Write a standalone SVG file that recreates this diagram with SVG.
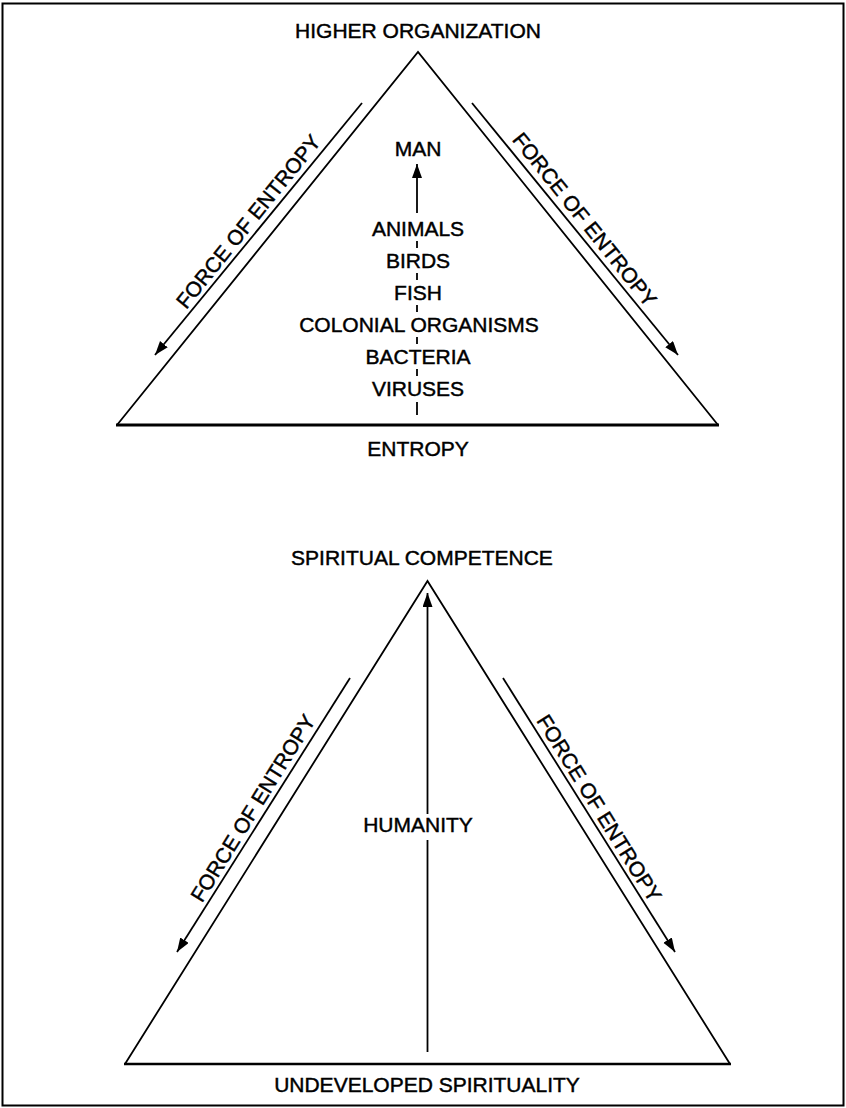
<svg xmlns="http://www.w3.org/2000/svg" width="846" height="1108" viewBox="0 0 846 1108">
<style>
text{font-family:"Liberation Sans",Arial,sans-serif;font-size:21px;fill:#000;stroke:#000;stroke-width:0.45}
.c{text-anchor:middle}
.ln{stroke:#000;stroke-width:1.8;fill:none}
.base{stroke:#000;stroke-width:3;fill:none}
</style>
<defs>
<marker id="ah" markerUnits="userSpaceOnUse" markerWidth="16" markerHeight="12" refX="14" refY="5" orient="auto">
<path d="M0,0 L14,5 L0,10 Z" fill="#000"/>
</marker>
</defs>
<rect x="2.5" y="3.5" width="841" height="1102" fill="#fff" stroke="#000" stroke-width="2"/>

<g id="top-triangle">
<path class="ln" d="M117,425 L418,52 L718,425"/>
<line class="base" x1="116" y1="425" x2="719" y2="425"/>
</g>
<g id="label-higher-organization"><text class="c" x="418" y="38">HIGHER ORGANIZATION</text></g>
<g id="label-entropy"><text class="c" x="418" y="456">ENTROPY</text></g>
<g id="ladder">
<text class="c" x="418" y="156">MAN</text>
<text class="c" x="418" y="236">ANIMALS</text>
<text class="c" x="418" y="268">BIRDS</text>
<text class="c" x="418" y="300">FISH</text>
<text class="c" x="419" y="332">COLONIAL ORGANISMS</text>
<text class="c" x="418" y="364">BACTERIA</text>
<text class="c" x="418" y="396">VIRUSES</text>
</g>
<g id="top-force-left"><text class="c" transform="translate(254,226) rotate(-51.1)">FORCE OF ENTROPY</text></g>
<g id="top-force-right"><text class="c" transform="translate(579,224) rotate(51.2)">FORCE OF ENTROPY</text></g>

<g id="bottom-triangle">
<path class="ln" d="M125,1064 L427.5,581 L730,1064"/>
<line x1="124" y1="1064" x2="731" y2="1064" stroke="#000" stroke-width="2.4"/>
</g>
<g id="label-spiritual-competence"><text class="c" x="422" y="565">SPIRITUAL COMPETENCE</text></g>
<g id="label-humanity"><text class="c" x="418" y="832">HUMANITY</text></g>
<g id="label-undeveloped"><text class="c" x="427" y="1092">UNDEVELOPED SPIRITUALITY</text></g>
<g id="bottom-force-left"><text class="c" transform="translate(259,812) rotate(-58.1)">FORCE OF ENTROPY</text></g>
<g id="bottom-force-right"><text class="c" transform="translate(593,812) rotate(58.1)">FORCE OF ENTROPY</text></g>

<g id="connectors">
<line class="ln" x1="417" y1="213" x2="417" y2="164" marker-end="url(#ah)"/>
<g stroke="#000" stroke-width="1.8">
<line x1="417" y1="241" x2="417" y2="248"/>
<line x1="417" y1="273" x2="417" y2="280"/>
<line x1="417" y1="305" x2="417" y2="312"/>
<line x1="417" y1="337" x2="417" y2="344"/>
<line x1="417" y1="369" x2="417" y2="376"/>
<line x1="417" y1="402" x2="417" y2="415"/>
</g>
<line class="ln" x1="362" y1="103" x2="155" y2="355" marker-end="url(#ah)"/>
<line class="ln" x1="472" y1="103" x2="678" y2="355" marker-end="url(#ah)"/>
<line class="ln" x1="427.5" y1="1052" x2="427.5" y2="840"/>
<line class="ln" x1="427.5" y1="814" x2="427.5" y2="593" marker-end="url(#ah)"/>
<line class="ln" x1="350" y1="678" x2="177" y2="952" marker-end="url(#ah)"/>
<line class="ln" x1="503" y1="678" x2="675" y2="952" marker-end="url(#ah)"/>
</g>
</svg>
